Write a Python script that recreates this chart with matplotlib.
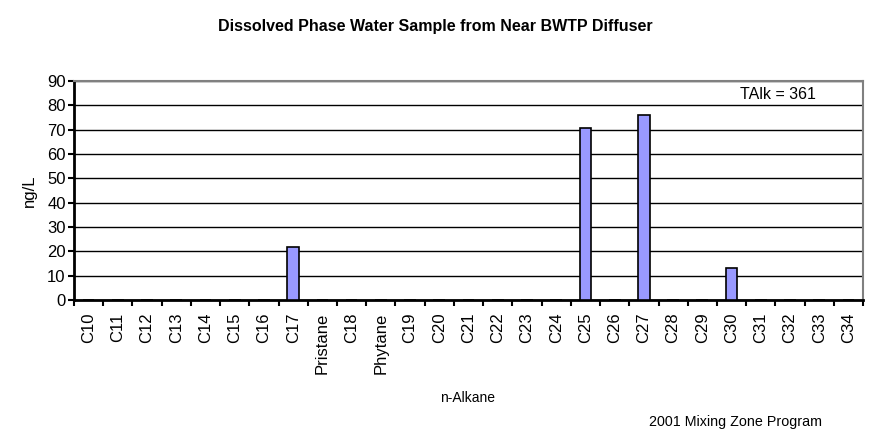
import numpy as np
import matplotlib.pyplot as plt

plt.rcParams['font.family'] = ['Liberation Sans', 'DejaVu Sans']

# n-alkane concentrations (ng/L)
compounds = ['C10', 'C11', 'C12', 'C13', 'C14', 'C15', 'C16', 'C17', 'Pristane',
             'C18', 'Phytane', 'C19', 'C20', 'C21', 'C22', 'C23', 'C24', 'C25',
             'C26', 'C27', 'C28', 'C29', 'C30', 'C31', 'C32', 'C33', 'C34']
conc = [0, 0, 0, 0, 0, 0, 0, 22, 0,
        0, 0, 0, 0, 0, 0, 0, 0, 70.5,
        0, 76, 0, 0, 13, 0, 0, 0, 0]
talk = 361

fig = plt.figure(figsize=(8.78, 4.33), dpi=100)
ax = fig.add_axes([0.0843, 0.307, 0.8987, 0.506])

x = np.arange(len(compounds))
ax.bar(x, conc, width=0.4, color='#9999ff', edgecolor='black', linewidth=1.2, zorder=3)

ax.set_xlim(-0.5, len(compounds) - 0.5)
ax.set_ylim(0, 90)
ax.set_yticks(np.arange(0, 91, 10))
ax.yaxis.grid(True, color='black', linewidth=1.0, zorder=0)
ax.set_axisbelow(True)

# labels at category centres, tick marks on the boundaries
ax.set_xticks(x)
ax.set_xticklabels(compounds, rotation=90, fontsize=12)
ax.tick_params(axis='x', which='major', length=0, pad=9)
ax.set_xticks(np.arange(-0.5, len(compounds)), minor=True)
ax.tick_params(axis='x', which='minor', length=4, width=1.5, direction='out')
ax.tick_params(axis='y', length=4, width=1.5, labelsize=12, pad=2)

for side in ['left', 'bottom']:
    ax.spines[side].set_linewidth(2)
    ax.spines[side].set_color('black')
for side in ['top', 'right']:
    ax.spines[side].set_linewidth(1.5)
    ax.spines[side].set_color('#808080')

ax.set_ylabel('ng/L', fontsize=12)
ax.yaxis.set_label_coords(-0.047, 0.5)
fig.text(0.533, 0.081, 'n-Alkane', ha='center', va='center', fontsize=10)
fig.text(0.496, 0.938, 'Dissolved Phase Water Sample from Near BWTP Diffuser',
         ha='center', va='center', fontsize=11.5, fontweight='bold')
ax.text(0.94, 0.94, f'TAlk = {talk}', transform=ax.transAxes, ha='right', va='center',
        fontsize=11.5)
fig.text(0.838, 0.025, '2001 Mixing Zone Program', ha='center', va='center', fontsize=10.3)

fig.savefig('out.png', dpi=100)
